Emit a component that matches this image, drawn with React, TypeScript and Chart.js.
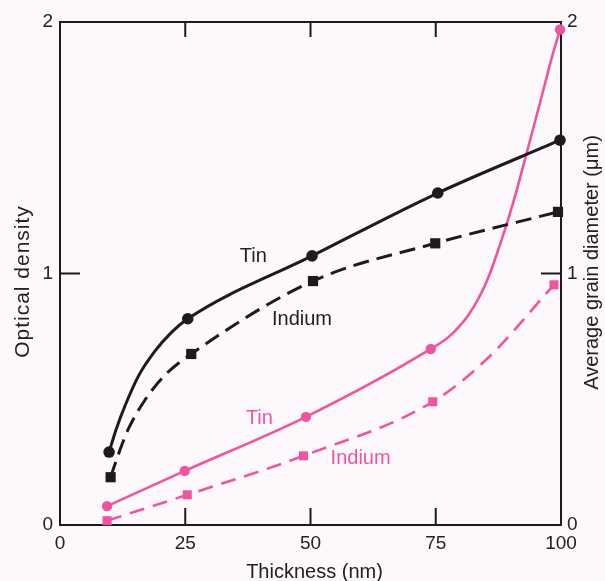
import React, { useEffect, useRef } from "react";
import { Chart, registerables } from "chart.js";
Chart.register(...registerables);

// ---- data ----
const xTickValues = [0, 25, 50, 75, 100];
const yTickValues = [0, 1, 2];

// marker positions (thickness nm, value)
const tinBlackX = [9.8, 25.5, 50.3, 75.4, 99.8];
const tinBlackY = [0.29, 0.82, 1.07, 1.32, 1.53];
const indiumBlackX = [10.1, 26.2, 50.5, 74.9, 99.4];
const indiumBlackY = [0.19, 0.68, 0.97, 1.12, 1.245];
const tinPinkX = [9.4, 24.9, 49.1, 74.0, 99.8];
const tinPinkY = [0.075, 0.215, 0.43, 0.7, 1.97];
const indiumPinkX = [9.4, 25.4, 48.6, 74.4, 98.6];
const indiumPinkY = [0.017, 0.12, 0.275, 0.49, 0.955];

// extra points (no markers)
const tinBlackTraceX = [11.2, 13.0, 15.6, 18.9, 22.2];
const tinBlackTraceY = [0.38, 0.475, 0.59, 0.69, 0.765];
const indiumBlackTraceX = [12.0, 13.6, 16.9, 20.9];
const indiumBlackTraceY = [0.3, 0.38, 0.495, 0.595];
const tinPinkTraceX = [77.7, 81.7, 85.1, 88.0, 90.6, 93.2, 95.8, 98.2];
const tinPinkTraceY = [0.75, 0.84, 0.965, 1.125, 1.292, 1.483, 1.678, 1.86];
const indiumPinkTraceX = [85.0];
const indiumPinkTraceY = [0.656];

// curve labels (text, thickness, value, series group)
const labelTexts = ["Tin", "Indium", "Tin", "Indium"];
const labelX = [38.6, 48.3, 39.8, 60.0];
const labelY = [1.067, 0.817, 0.425, 0.266];
const labelGroup = ["black", "black", "pink", "pink"];

const xTitle = "Thickness (nm)";
const yLeftTitle = "Optical density";
const yRightTitle = "Average grain diameter (\u03bcm)";

// ---- styles ----
const BLACK = "#1d1b1d";
const PINK = "#ef559e";
const BG = "#fcf8fc";
const FONT = '"Liberation Sans", Arial, sans-serif';

const pts = (xs: number[], ys: number[]) => xs.map((x, i) => ({ x, y: ys[i] }));
const curve = (xs: number[], ys: number[], tx: number[], ty: number[]) =>
  [...pts(xs, ys), ...pts(tx, ty)].sort((a, b) => a.x - b.x);

const framePlugin = {
  id: "frame",
  beforeDraw(chart: any) {
    const { ctx, width, height } = chart;
    ctx.save();
    ctx.fillStyle = BG;
    ctx.fillRect(0, 0, width, height);
    ctx.restore();
  },
  beforeDatasetsDraw(chart: any) {
    const { ctx, chartArea: ca, scales } = chart;
    ctx.save();
    ctx.strokeStyle = BLACK;
    ctx.lineWidth = 2;
    ctx.strokeRect(ca.left, ca.top, ca.right - ca.left, ca.bottom - ca.top);
    ctx.beginPath();
    xTickValues.forEach((v) => {
      if (v === 0 || v === 100) return;
      const px = scales.x.getPixelForValue(v);
      ctx.moveTo(px, ca.bottom);
      ctx.lineTo(px, ca.bottom - 17);
      ctx.moveTo(px, ca.top);
      ctx.lineTo(px, ca.top + 15);
    });
    yTickValues.forEach((v) => {
      if (v === 0 || v === 2) return;
      const pyL = scales.y.getPixelForValue(v);
      ctx.moveTo(ca.left, pyL);
      ctx.lineTo(ca.left + 20, pyL);
      const pyR = scales.y2.getPixelForValue(v);
      ctx.moveTo(ca.right, pyR);
      ctx.lineTo(ca.right - 20, pyR);
    });
    ctx.stroke();
    ctx.restore();
  },
  afterDraw(chart: any) {
    const { ctx, chartArea: ca, scales } = chart;
    ctx.save();
    ctx.textAlign = "center";
    ctx.textBaseline = "middle";
    ctx.fillStyle = "#222";
    ctx.font = `20px ${FONT}`;
    ctx.fillText(xTitle, (ca.left + ca.right) / 2 + 4, ca.bottom + 47);
    ctx.save();
    ctx.font = `21px ${FONT}`;
    (ctx as any).letterSpacing = "1px";
    ctx.translate(ca.left - 37, (ca.top + ca.bottom) / 2 + 8);
    ctx.rotate(-Math.PI / 2);
    ctx.fillText(yLeftTitle, 0, 0);
    ctx.restore();
    ctx.save();
    ctx.font = `20px ${FONT}`;
    ctx.translate(ca.right + 31, (ca.top + ca.bottom) / 2 - 11);
    ctx.rotate(-Math.PI / 2);
    ctx.fillText(yRightTitle, 0, 0);
    ctx.restore();
    ctx.font = `20px ${FONT}`;
    labelTexts.forEach((t, i) => {
      const isPink = labelGroup[i] === "pink";
      ctx.fillStyle = isPink ? PINK : "#222";
      const px = scales.x.getPixelForValue(labelX[i]);
      const py = (isPink ? scales.y2 : scales.y).getPixelForValue(labelY[i]);
      ctx.fillText(t, px, py);
    });
    ctx.restore();
  },
};

export default function App() {
  const ref = useRef<HTMLCanvasElement | null>(null);
  useEffect(() => {
    if (!ref.current) return;
    const tickFont = { family: FONT, size: 19 };
    const lineBase = {
      type: "line" as const,
      pointRadius: 0,
      pointHoverRadius: 0,
      cubicInterpolationMode: "monotone" as const,
      fill: false,
      clip: false as any,
    };
    const markerBase = {
      type: "line" as const,
      showLine: false,
      borderWidth: 0,
      clip: false as any,
    };
    const chart = new Chart(ref.current, {
      type: "line",
      data: {
        datasets: [
          { ...lineBase, label: "Tin (OD)", data: curve(tinBlackX, tinBlackY, tinBlackTraceX, tinBlackTraceY), borderColor: BLACK, borderWidth: 3, yAxisID: "y" },
          { ...lineBase, label: "Indium (OD)", data: curve(indiumBlackX, indiumBlackY, indiumBlackTraceX, indiumBlackTraceY), borderColor: BLACK, borderWidth: 3, borderDash: [16, 8], yAxisID: "y" },
          { ...lineBase, label: "Tin (grain)", data: curve(tinPinkX, tinPinkY, tinPinkTraceX, tinPinkTraceY), borderColor: PINK, borderWidth: 2.6, yAxisID: "y2" },
          { ...lineBase, label: "Indium (grain)", data: curve(indiumPinkX, indiumPinkY, indiumPinkTraceX, indiumPinkTraceY), borderColor: PINK, borderWidth: 2.6, borderDash: [15, 9], yAxisID: "y2" },
          { ...markerBase, label: "Tin OD pts", data: pts(tinBlackX, tinBlackY), pointStyle: "circle", pointRadius: 5.8, backgroundColor: BLACK, borderColor: BLACK, yAxisID: "y" },
          { ...markerBase, label: "Indium OD pts", data: pts(indiumBlackX, indiumBlackY), pointStyle: "rect", pointRadius: 7.2, backgroundColor: BLACK, borderColor: BLACK, yAxisID: "y" },
          { ...markerBase, label: "Tin grain pts", data: pts(tinPinkX, tinPinkY), pointStyle: "circle", pointRadius: 5.2, backgroundColor: PINK, borderColor: PINK, yAxisID: "y2" },
          { ...markerBase, label: "Indium grain pts", data: pts(indiumPinkX, indiumPinkY), pointStyle: "rect", pointRadius: 6.4, backgroundColor: PINK, borderColor: PINK, yAxisID: "y2" },
        ] as any,
      },
      options: {
        animation: false,
        responsive: false,
        maintainAspectRatio: false,
        layout: { padding: { top: 22, left: 0, right: 0, bottom: 0 } },
        plugins: { legend: { display: false }, tooltip: { enabled: false } },
        events: [],
        scales: {
          x: {
            type: "linear",
            min: 0,
            max: 100,
            afterBuildTicks: (s: any) => { s.ticks = xTickValues.map((v) => ({ value: v })); },
            afterFit: (s: any) => { s.height = 56; },
            grid: { display: false },
            border: { display: false },
            ticks: { font: tickFont, color: "#222", padding: -1, maxRotation: 0, autoSkip: false },
          },
          y: {
            type: "linear",
            position: "left",
            min: 0,
            max: 2,
            afterBuildTicks: (s: any) => { s.ticks = yTickValues.map((v) => ({ value: v })); },
            afterFit: (s: any) => { s.width = 60; },
            grid: { display: false },
            border: { display: false },
            ticks: { font: tickFont, color: "#222", padding: -1 },
          },
          y2: {
            type: "linear",
            position: "right",
            min: 0,
            max: 2,
            afterBuildTicks: (s: any) => { s.ticks = yTickValues.map((v) => ({ value: v })); },
            afterFit: (s: any) => { s.width = 44; },
            grid: { display: false },
            border: { display: false },
            ticks: { font: tickFont, color: "#222", padding: -2 },
          },
        },
      } as any,
      plugins: [framePlugin],
    });
    return () => chart.destroy();
  }, []);
  return (
    <div style={{ position: "fixed", left: 0, top: 0, width: 605, height: 581 }}>
      <canvas ref={ref} width={605} height={581} style={{ display: "block", width: 605, height: 581 }} />
    </div>
  );
}
